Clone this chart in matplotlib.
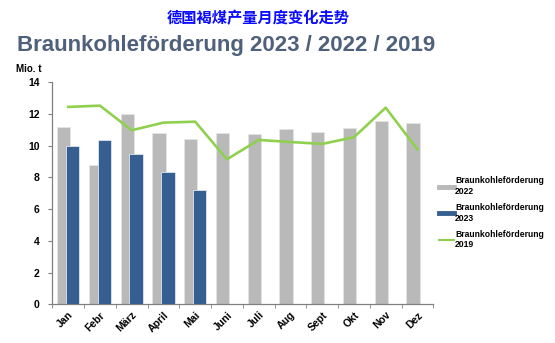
import numpy as np
import matplotlib
matplotlib.use("Agg")
import matplotlib.pyplot as plt
from matplotlib.lines import Line2D

months = ["Jan", "Febr", "März", "April", "Mai", "Juni", "Juli",
          "Aug", "Sept", "Okt", "Nov", "Dez"]
prod_2022 = [11.15, 8.77, 12.0, 10.81, 10.39, 10.81, 10.75,
             11.02, 10.85, 11.12, 11.52, 11.44]
prod_2023 = [9.95, 10.33, 9.49, 8.35, 7.18]
prod_2019 = [12.43, 12.51, 10.96, 11.44, 11.50, 9.13, 10.35,
             10.22, 10.10, 10.52, 12.38, 9.76]

plt.rcParams['font.family'] = ['Liberation Sans', 'DejaVu Sans']

fig = plt.figure(figsize=(5.55, 3.43), dpi=100)
ax = fig.add_axes([0.0943, 0.1128, 0.6864, 0.6482])

x = np.arange(len(months))
width = 0.42
gray, blue, green = "#b9b9b9", "#365f91", "#8fd14f"
ax.bar(x - 0.14, prod_2022, width, color=gray, edgecolor="#e4e4e4",
       linewidth=0.6, zorder=2)
ax.bar(x[:len(prod_2023)] + 0.14, prod_2023, width, color=blue,
       edgecolor="#dfe6ef", linewidth=0.6, zorder=3)
ax.plot(x, prod_2019, color=green, linewidth=1.9, zorder=4)

ax.set_xlim(-0.5, len(months) - 0.5)
ax.set_ylim(0, 14)
ax.set_yticks(range(0, 15, 2))
ax.set_yticklabels([str(v) for v in range(0, 15, 2)], fontsize=7.5,
                   fontweight="bold")
ax.set_xticks(x)
ax.set_xticklabels(months, rotation=45, fontsize=7.5, fontweight="bold",
                   ha="right", rotation_mode="anchor")
ax.tick_params(axis="x", length=0, pad=4)
ax.set_xticks(np.arange(-0.5, len(months), 1), minor=True)
ax.tick_params(axis="x", which="minor", length=3, color="#808080")
ax.tick_params(axis="y", length=3, color="#808080", pad=6)
for side in ("top", "right"):
    ax.spines[side].set_visible(False)
for side in ("left", "bottom"):
    ax.spines[side].set_color("#808080")
    ax.spines[side].set_linewidth(0.9)

handles = [Line2D([], [], color=gray, lw=3.5),
           Line2D([], [], color=blue, lw=3.5),
           Line2D([], [], color=green, lw=1.5)]
labels = ["Braunkohleförderung\n2022", "Braunkohleförderung\n2023",
          "Braunkohleförderung\n2019"]
ax.legend(handles, labels, loc="upper left", bbox_to_anchor=(0.995, 0.61),
          frameon=False, handlelength=1.7, handletextpad=0.15,
          labelspacing=0.85, prop={"weight": "bold", "size": 6.2})

fig.text(0.465, 0.947, "德国褐煤产量月度变化走势", ha="center", va="center",
         fontsize=11, fontweight="bold", color="#0a0aff",
         family=["Noto Sans CJK SC", "DejaVu Sans"])
fig.text(0.03, 0.868, "Braunkohleförderung 2023 / 2022 / 2019", ha="left",
         va="center", fontsize=16, fontweight="bold", color="#4f607a")
fig.text(0.028, 0.798, "Mio. t", ha="left", va="center", fontsize=7,
         fontweight="bold", color="black")

fig.savefig("out.png", dpi=100)
